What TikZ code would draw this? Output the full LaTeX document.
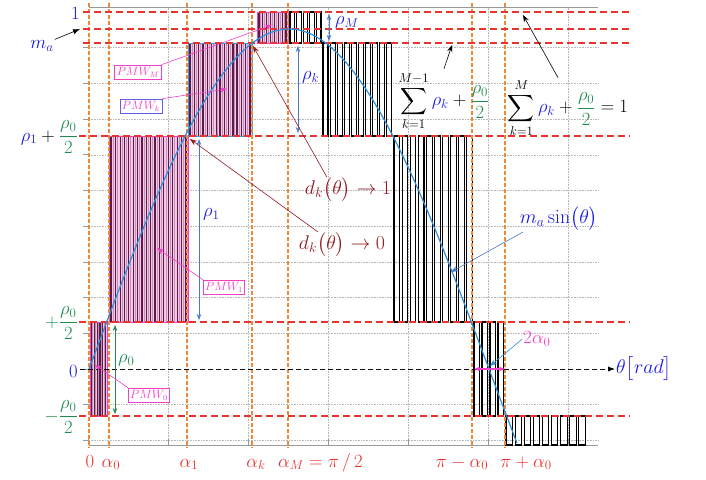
\documentclass[tikz,border=0pt]{standalone}
\usepackage{amsmath, amssymb}
\usepackage{graphicx}
\usepackage{tikz}
\usetikzlibrary{arrows.meta, positioning, calc}
\definecolor{mRed}{HTML}{E8332F}
\definecolor{mOrange}{HTML}{F0883A}
\definecolor{mPink}{HTML}{F9C4EA}
\definecolor{mMagenta}{HTML}{F040C8}
\definecolor{mPurple}{HTML}{5E1A48}
\definecolor{mGreen}{HTML}{1E8A4E}
\definecolor{mBlue}{HTML}{1A1AE6}
\definecolor{mArrow}{HTML}{4A78C8}
\definecolor{mCurve}{HTML}{2A90DC}
\definecolor{mCyan}{HTML}{22A8E0}
\definecolor{mDark}{HTML}{8E1C22}

% label text, slightly enlarged
\newcommand{\lab}[2][1.08]{\scalebox{#1}{#2}}
% pink PMW block: x0, x1, top, bottom, stripes, border
\newcommand{\pmwblock}[6]{%
  \fill[mPink] (#1,#3) rectangle (#2,#4);
  \foreach \i in {1,...,#5} {
    \pgfmathsetmacro\sx{#1+(#2-#1)*(\i-0.5)/#5}
    \pgfmathsetmacro\sl{#1+(#2-#1)*(\i-0.05)/#5}
    \pgfmathsetmacro\sw{0.35+0.22*mod(\i*5,7)}
    \draw[mPurple, line width=\sw pt] (\sx,#3) -- (\sx,#4);
    \draw[mPurple!45, line width=0.5pt] (\sl,#3) -- (\sl,#4);
  }
  \draw[#6, line width=1pt] (#1,#3) rectangle (#2,#4);
}
% black pulses: x0, x1, top, bottom, count
\newcommand{\pulsetrain}[5]{%
  \foreach \i in {1,...,#5} {
    \pgfmathsetmacro\pa{#1+(#2-#1)*(\i-1)/#5}
    \pgfmathsetmacro\pb{\pa+0.7*(#2-#1)/#5}
    \draw[pulse] (\pa,#3) rectangle (\pb,#4);
  }
}

\begin{document}
\begin{tikzpicture}[x=1pt, y=-1pt,
    every node/.style={font=\LARGE, inner sep=1pt},
    grid/.style={gray!55, densely dotted, line width=0.6pt},
    axis/.style={gray!80, line width=0.8pt},
    level/.style={mRed, dash pattern=on 7pt off 4pt, line width=1.3pt},
    angle/.style={mOrange, dash pattern=on 4pt off 2pt, line width=1.1pt},
    pulse/.style={black, line width=1.1pt},
    rhoarrow/.style={{Stealth[length=6pt]}-{Stealth[length=6pt]}, line width=0.7pt},
    pointer/.style={-{Stealth[length=7pt]}, line width=0.6pt},
    pmwlabel/.style={draw=mMagenta, fill=white, text=mMagenta, inner sep=2pt,
      line width=0.7pt, font=\large}]
  \useasboundingbox (0,0) rectangle (706,479);

  % grid and axes
  \foreach \k in {-2,-1,1,2,3,4,5,6,7,8,9}
    \draw[grid] (89,{369-35.7*\k}) -- (598,{369-35.7*\k});
  \foreach \k in {1,...,6}
    \draw[grid] ({88+80*\k},7.5) -- ({88+80*\k},445);
  \draw[axis] (89,7.5) -- (598,7.5);
  \draw[axis] (89,445) -- (598,445);
  \foreach \k in {-2,...,10}
    \draw[axis] (83,{369-35.7*\k}) -- (89,{369-35.7*\k});
  \foreach \k in {0,...,6}
    \draw[axis] ({88+80*\k},445) -- ({88+80*\k},439);

  % modulated blocks
  \pmwblock{90}{107}{322}{416}{6}{mMagenta}
  \pmwblock{109}{188}{136}{322}{18}{mMagenta}
  \pmwblock{188}{252}{43}{136}{15}{mCyan}
  \pmwblock{257}{288}{12}{43}{8}{mMagenta}
  \pulsetrain{290}{323}{12}{43}{5}
  \pulsetrain{323}{394}{43}{136}{10}
  \pulsetrain{394}{475}{136}{322}{10}
  \pulsetrain{474}{506}{322}{416}{4}
  \pulsetrain{506}{588}{416}{445}{9}

  % switching angles and levels
  \foreach \x in {89,109,187,252,288,472,505}
    \draw[angle] (\x,3) -- (\x,448);
  \foreach \y/\xa in {12/83, 29/83, 43/83, 136/79, 322/79, 416/79}
    \draw[level] (\xa,\y) -- (630,\y);

  \draw[mCurve, line width=1.2pt] plot[domain=89:517, samples=90, smooth]
    (\x, {369-340*sin((\x-89)*0.45)});

  % left labels
  \node[text=mBlue, anchor=base east] (lOne) at (81,19) {\lab{$1$}};
  \node[text=mBlue] (lMa) at (42,46) {\lab{$m_a$}};
  \coordinate (tMa) at (80,29);
  \draw[pointer, -{Latex[length=7pt]}] (lMa.north east) -- (tMa);
  \node[anchor=base east] (lRho1) at (79,141)
    {\lab{$\textcolor{mBlue}{\rho_1}+\textcolor{mGreen}{\dfrac{\rho_0}{2}}$}};
  \node[anchor=base east, text=mGreen] (lHalfP) at (79,327) {\lab{$+\dfrac{\rho_0}{2}$}};
  \node[anchor=base east, text=mBlue] (lZero) at (79,377) {\lab{$0$}};
  \node[anchor=base east, text=mGreen] (lHalfN) at (79,421) {\lab{$-\dfrac{\rho_0}{2}$}};

  % angle labels
  \node[text=mRed, anchor=base] (xZero) at (90,467) {\lab{$0$}};
  \node[text=mRed, anchor=base] (xA0) at (111,467) {\lab{$\alpha_0$}};
  \node[text=mRed, anchor=base] (xA1) at (189,467) {\lab{$\alpha_1$}};
  \node[text=mRed, anchor=base] (xAk) at (256,467) {\lab{$\alpha_k$}};
  \node[text=mRed, anchor=base west] (xAM) at (277,467) {\lab{$\alpha_M=\pi\,/\,2$}};
  \node[text=mRed, anchor=base] (xPiM) at (462,467) {\lab{$\pi-\alpha_0$}};
  \node[text=mRed, anchor=base] (xPiP) at (526,467) {\lab{$\pi+\alpha_0$}};

  % theta axis
  \node[text=mBlue, anchor=west] (lTheta) at (615,369) {\lab[1.15]{$\theta\bigl[rad\bigr]$}};
  \coordinate (axS) at (80,369);
  \draw[black, dash pattern=on 5pt off 3pt, line width=0.9pt, -{Latex[length=7pt]}]
    (axS) -- (lTheta.west);

  % widths
  \coordinate (r0a) at (115,325); \coordinate (r0b) at (115,414);
  \draw[rhoarrow, mGreen] (r0a) -- (r0b);
  \node[text=mGreen, anchor=west] (lR0) at (117,360) {\lab{$\rho_0$}};
  \coordinate (r1a) at (199,139); \coordinate (r1b) at (199,320);
  \draw[rhoarrow, mArrow] (r1a) -- (r1b);
  \node[text=mBlue, anchor=west] (lR1) at (202,214) {\lab{$\rho_1$}};
  \coordinate (rka) at (298,46); \coordinate (rkb) at (298,133);
  \draw[rhoarrow, mArrow] (rka) -- (rkb);
  \node[text=mBlue, anchor=west] (lRk) at (301,77) {\lab{$\rho_k$}};
  \coordinate (rma) at (329,14); \coordinate (rmb) at (329,41);
  \draw[rhoarrow, mArrow] (rma) -- (rmb);
  \node[text=mBlue, anchor=west] (lRM) at (334,22) {\lab{$\rho_M$}};

  \coordinate (wA) at (474,369); \coordinate (wB) at (505,369);
  \draw[mMagenta, {Stealth[length=6pt]}-{Stealth[length=6pt]}, line width=1.5pt] (wA) -- (wB);
  \node[text=mMagenta] (lTwoA) at (537,339) {\lab{$2\alpha_0$}};
  \coordinate (tTwoA) at (490,366);
  \draw[pointer, mCurve] (lTwoA.west) -- (tTwoA);

  % curve and duty labels
  \node[text=mBlue] (lSin) at (559,219) {\lab[1.15]{$m_a\sin\bigl(\theta\bigr)$}};
  \coordinate (tSin) at (451,272);
  \draw[pointer, mArrow] ([xshift=4pt]lSin.south west) -- (tSin);
  \node[text=mDark] (lDk1) at (348,190) {\lab[1.15]{$d_k\bigl(\theta\bigr)\rightarrow 1$}};
  \coordinate (tDk1) at (253,46);
  \draw[pointer, mDark] ([xshift=23pt]lDk1.north west) -- (tDk1);
  \node[text=mDark] (lDk0) at (342,245) {\lab[1.15]{$d_k\bigl(\theta\bigr)\rightarrow 0$}};
  \coordinate (tDk0) at (190,139);
  \draw[pointer, mDark] ([xshift=20pt]lDk0.north west) -- (tDk0);

  % sums
  \node (lSum1) at (444,101)
    {\lab{$\displaystyle\sum_{k=1}^{M-1}\textcolor{mBlue}{\rho_k}+\textcolor{mGreen}{\frac{\rho_0}{2}}$}};
  \coordinate (tSum1) at (452,45);
  \draw[pointer] ([yshift=2pt]lSum1.north) -- (tSum1);
  \node (lSum2) at (568,108)
    {\lab{$\displaystyle\sum_{k=1}^{M}\textcolor{mBlue}{\rho_k}+\textcolor{mGreen}{\frac{\rho_0}{2}}=1$}};
  \coordinate (tSum2) at (523,15);
  \draw[pointer] ([xshift=-10pt]lSum2.north) -- (tSum2);

  % block labels
  \node[pmwlabel] (pmwM) at (138,72) {$PMW_M$};
  \node[pmwlabel, draw=mBlue!70] (pmwK) at (141,106) {$PMW_k$};
  \node[pmwlabel] (pmw1) at (224,287) {$PMW_1$};
  \node[pmwlabel] (pmw0) at (149,395) {$PMW_0$};
  \coordinate (tM) at (272,25);
  \coordinate (tK) at (227,89);
  \coordinate (t1) at (157,248);
  \coordinate (t0) at (95,365);
  \draw[pointer, mMagenta] (pmwM.north east) -- (tM);
  \draw[pointer, mMagenta] (pmwK.north east) -- (tK);
  \draw[pointer, mMagenta] (pmw1.north west) -- (t1);
  \draw[pointer, mMagenta] (pmw0.north west) -- (t0);
\end{tikzpicture}
\end{document}
